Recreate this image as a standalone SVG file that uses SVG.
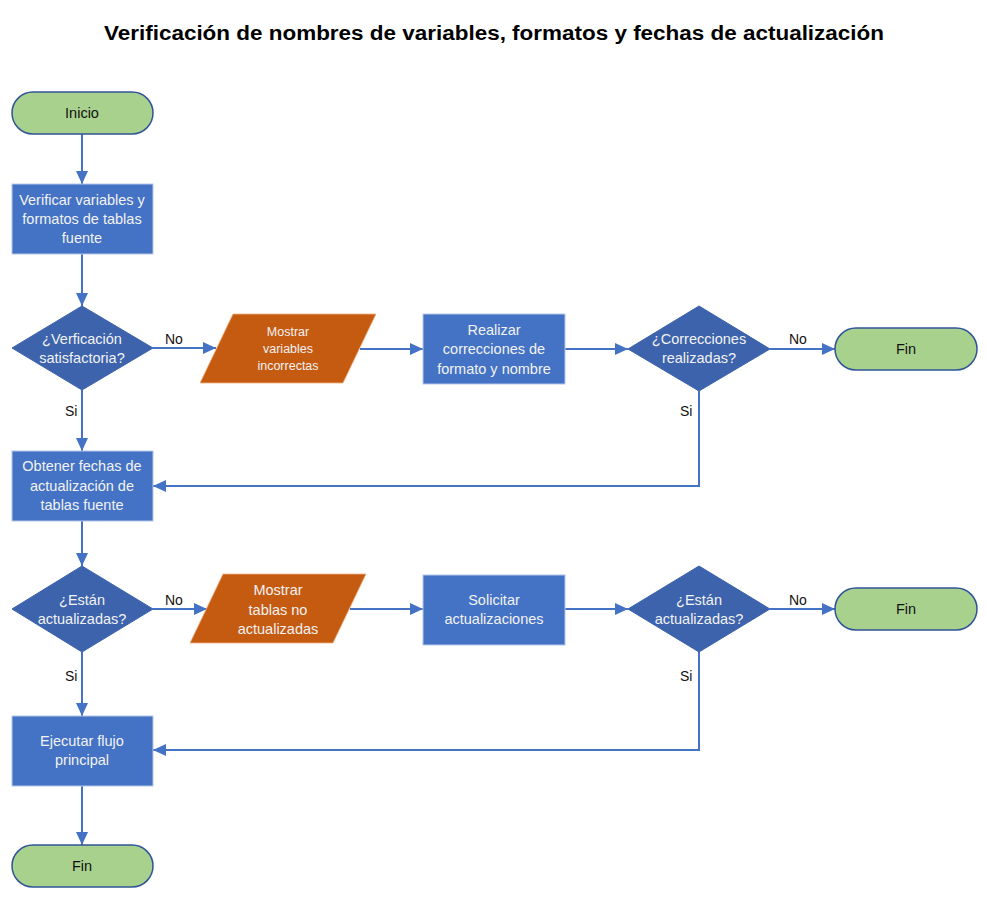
<svg xmlns="http://www.w3.org/2000/svg" width="987" height="899" viewBox="0 0 987 899">
<style>
.term{fill:#A9D18E;stroke:#2F5597;stroke-width:1.5}
.proc{fill:#4472C4;stroke:#B4C7E7;stroke-width:1}
.dec{fill:#3C63AC;stroke:#3C63AC;stroke-width:1}
.io{fill:#C55A11;stroke:#F4B183;stroke-width:0.8}
.t{font-family:"Liberation Sans",Arial,sans-serif;font-size:14.5px;text-anchor:middle;dominant-baseline:central}
.w{fill:#F2F2F2}
.k{fill:#111}
.lbl{font-family:"Liberation Sans",Arial,sans-serif;font-size:14px;fill:#111;dominant-baseline:central}
.c{fill:none;stroke:#4472C4;stroke-width:2}
</style>
<defs>
<marker id="ah" markerUnits="userSpaceOnUse" markerWidth="14" markerHeight="14" viewBox="0 0 14 14" refX="13" refY="7" orient="auto">
<path d="M0,1 L13,7 L0,13 Z" fill="#4472C4"/>
</marker>
</defs>
<rect width="987" height="899" fill="#FFFFFF"/>
<text x="494" y="33" font-family="'Liberation Sans',Arial,sans-serif" font-size="20" font-weight="bold" text-anchor="middle" dominant-baseline="central" fill="#000" textLength="780" lengthAdjust="spacingAndGlyphs">Verificación de nombres de variables, formatos y fechas de actualización</text>

<g id="connectors">
<line class="c" x1="82" y1="134" x2="82" y2="184" marker-end="url(#ah)"/>
<line class="c" x1="82" y1="254" x2="82" y2="306" marker-end="url(#ah)"/>
<line class="c" x1="153" y1="348" x2="216" y2="348" marker-end="url(#ah)"/>
<line class="c" x1="360" y1="349" x2="423" y2="349" marker-end="url(#ah)"/>
<line class="c" x1="565" y1="349" x2="628" y2="349" marker-end="url(#ah)"/>
<line class="c" x1="770" y1="349" x2="835" y2="349" marker-end="url(#ah)"/>
<polyline class="c" points="699,391 699,486 153,486" marker-end="url(#ah)"/>
<line class="c" x1="82" y1="390" x2="82" y2="451" marker-end="url(#ah)"/>
<line class="c" x1="82" y1="521" x2="82" y2="566" marker-end="url(#ah)"/>
<line class="c" x1="153" y1="609" x2="207" y2="609" marker-end="url(#ah)"/>
<line class="c" x1="350" y1="609" x2="423" y2="609" marker-end="url(#ah)"/>
<line class="c" x1="565" y1="609" x2="628" y2="609" marker-end="url(#ah)"/>
<line class="c" x1="770" y1="609" x2="835" y2="609" marker-end="url(#ah)"/>
<polyline class="c" points="699,652 699,750 153,750" marker-end="url(#ah)"/>
<line class="c" x1="82" y1="652" x2="82" y2="716" marker-end="url(#ah)"/>
<line class="c" x1="82" y1="786" x2="82" y2="845" marker-end="url(#ah)"/>
<text class="lbl" x="165" y="339">No</text>
<text class="lbl" x="789" y="339">No</text>
<text class="lbl" x="65" y="411">Si</text>
<text class="lbl" x="680" y="411">Si</text>
<text class="lbl" x="165" y="600">No</text>
<text class="lbl" x="789" y="600">No</text>
<text class="lbl" x="65" y="676">Si</text>
<text class="lbl" x="680" y="676">Si</text>
</g>

<g id="inicio">
<rect class="term" x="12" y="92" width="141" height="42" rx="21" ry="21"/>
<text class="t k" x="82" y="113">Inicio</text>
</g>
<g id="verificar">
<rect class="proc" x="12" y="184" width="141" height="70"/>
<text class="t w" x="82" y="200">Verificar variables y</text>
<text class="t w" x="82" y="219">formatos de tablas</text>
<text class="t w" x="82" y="238">fuente</text>
</g>
<g id="dec1">
<polygon class="dec" points="12,348 82,306 153,348 82,390"/>
<text class="t w" x="82" y="339">¿Verficación</text>
<text class="t w" x="82" y="358">satisfactoria?</text>
</g>
<g id="mostrar1">
<polygon class="io" points="233,314 376,314 343,383 200,383"/>
<text class="t w" x="288" y="332" style="font-size:12.5px">Mostrar</text>
<text class="t w" x="288" y="349" style="font-size:12.5px">variables</text>
<text class="t w" x="288" y="366" style="font-size:12.5px">incorrectas</text>
</g>
<g id="realizar">
<rect class="proc" x="423" y="314" width="142" height="70"/>
<text class="t w" x="494" y="330">Realizar</text>
<text class="t w" x="494" y="349">correcciones de</text>
<text class="t w" x="494" y="369">formato y nombre</text>
</g>
<g id="dec2">
<polygon class="dec" points="628,349 699,306 770,349 699,391"/>
<text class="t w" x="699" y="339">¿Correcciones</text>
<text class="t w" x="699" y="358">realizadas?</text>
</g>
<g id="fin1">
<rect class="term" x="835" y="328" width="142" height="42" rx="21" ry="21"/>
<text class="t k" x="906" y="349">Fin</text>
</g>
<g id="obtener">
<rect class="proc" x="12" y="451" width="141" height="70"/>
<text class="t w" x="82" y="466">Obtener fechas de</text>
<text class="t w" x="82" y="486">actualización de</text>
<text class="t w" x="82" y="505">tablas fuente</text>
</g>
<g id="dec3">
<polygon class="dec" points="12,609 82,566 153,609 82,652"/>
<text class="t w" x="82" y="600">¿Están</text>
<text class="t w" x="82" y="619">actualizadas?</text>
</g>
<g id="mostrar2">
<polygon class="io" points="223,574 366,574 333,643 190,643"/>
<text class="t w" x="278" y="590">Mostrar</text>
<text class="t w" x="278" y="610">tablas no</text>
<text class="t w" x="278" y="629">actualizadas</text>
</g>
<g id="solicitar">
<rect class="proc" x="423" y="575" width="142" height="70"/>
<text class="t w" x="494" y="600">Solicitar</text>
<text class="t w" x="494" y="619">actualizaciones</text>
</g>
<g id="dec4">
<polygon class="dec" points="628,609 699,566 770,609 699,652"/>
<text class="t w" x="699" y="600">¿Están</text>
<text class="t w" x="699" y="619">actualizadas?</text>
</g>
<g id="fin2">
<rect class="term" x="835" y="588" width="142" height="42" rx="21" ry="21"/>
<text class="t k" x="906" y="609">Fin</text>
</g>
<g id="ejecutar">
<rect class="proc" x="12" y="716" width="141" height="70"/>
<text class="t w" x="82" y="741">Ejecutar flujo</text>
<text class="t w" x="82" y="760">principal</text>
</g>
<g id="fin3">
<rect class="term" x="12" y="845" width="141" height="42" rx="21" ry="21"/>
<text class="t k" x="82" y="866">Fin</text>
</g>
</svg>
